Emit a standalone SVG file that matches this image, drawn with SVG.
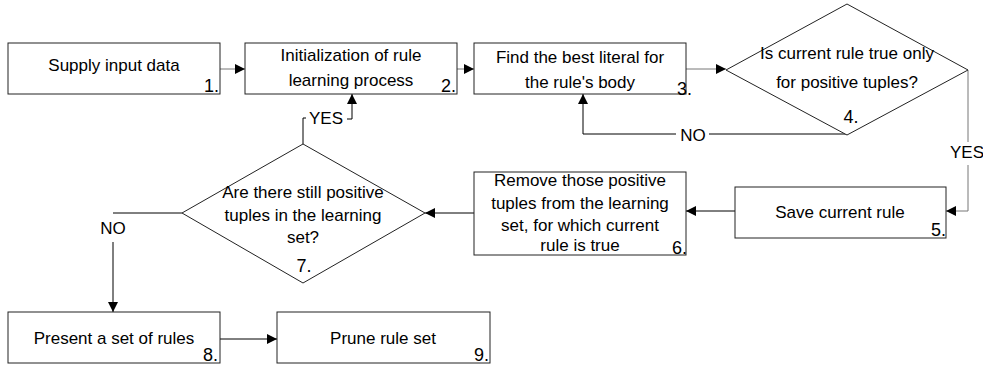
<svg xmlns="http://www.w3.org/2000/svg" width="983" height="367" viewBox="0 0 983 367">
<style>
.box{fill:#fff;stroke:#222;stroke-width:1}
.t{font-family:"Liberation Sans",Arial,sans-serif;font-size:17px;fill:#000;text-anchor:middle}
.n{font-family:"Liberation Sans",Arial,sans-serif;font-size:18px;fill:#000;text-anchor:end}
.c{fill:none;stroke:#000;stroke-width:1}
.g{stroke:#777}
.lbl{font-family:"Liberation Sans",Arial,sans-serif;font-size:17px;fill:#000;text-anchor:middle}
</style>
<defs>
<marker id="ah" viewBox="0 0 10 10" refX="10" refY="5" markerWidth="10" markerHeight="10" markerUnits="userSpaceOnUse" orient="auto">
<path d="M0,0 L10,5 L0,10 z" fill="#000"/>
</marker>
</defs>
<rect width="983" height="367" fill="#fff"/>
<g id="connectors">
<path class="c g" d="M220,69 H245" marker-end="url(#ah)"/>
<path class="c g" d="M457,69 H474" marker-end="url(#ah)"/>
<path class="c g" d="M686,69 H726" marker-end="url(#ah)"/>
<path class="c" d="M847,134 H709 M676,134 H583 V94" marker-end="url(#ah)"/>
<path class="c g" d="M968,70 V142 M968,165 V211 H946" marker-end="url(#ah)"/>
<path class="c" d="M735,211 H686" marker-end="url(#ah)"/>
<path class="c" d="M474,213 H425" marker-end="url(#ah)"/>
<path class="c" d="M303,144 V118 H306 M347,119 H352 V94" marker-end="url(#ah)"/>
<path class="c" d="M182,213 H113 M113,242 V312" marker-end="url(#ah)"/>
<path class="c" d="M220,339 H277" marker-end="url(#ah)"/>
<text class="lbl" x="693" y="141">NO</text>
<text class="lbl" x="967" y="158">YES</text>
<text class="lbl" x="326" y="124">YES</text>
<text class="lbl" x="113" y="234">NO</text>
</g>
<g id="n1">
<rect class="box" x="8" y="43" width="212" height="51"/>
<text class="t" x="114" y="71">Supply input data</text>
<text class="n" x="219" y="92">1.</text>
</g>
<g id="n2">
<rect class="box" x="245" y="43" width="212" height="51"/>
<text class="t" x="351" y="61">Initialization of rule</text>
<text class="t" x="351" y="86">learning process</text>
<text class="n" x="456" y="92">2.</text>
</g>
<g id="n3">
<rect class="box" x="474" y="43" width="212" height="51"/>
<text class="t" x="580" y="63">Find the best literal for</text>
<text class="t" x="580" y="88">the rule's body</text>
<text class="n" x="692" y="95">3.</text>
</g>
<g id="n4">
<polygon class="box" points="726,70 847,4 968,70 847,135"/>
<text class="t" x="847" y="59">Is current rule true only</text>
<text class="t" x="847" y="88">for positive tuples?</text>
<text class="t" x="851" y="123" style="font-size:18px">4.</text>
</g>
<g id="n5">
<rect class="box" x="735" y="187" width="211" height="51"/>
<text class="t" x="840" y="218">Save current rule</text>
<text class="n" x="946" y="236">5.</text>
</g>
<g id="n6">
<rect class="box" x="474" y="172" width="212" height="83"/>
<text class="t" x="580" y="186">Remove those positive</text>
<text class="t" x="580" y="209">tuples from the learning</text>
<text class="t" x="580" y="231">set, for which current</text>
<text class="t" x="580" y="251">rule is true</text>
<text class="n" x="687" y="254">6.</text>
</g>
<g id="n7">
<polygon class="box" points="182,213 303,144 425,213 303,283"/>
<text class="t" x="303" y="198">Are there still positive</text>
<text class="t" x="303" y="221">tuples in the learning</text>
<text class="t" x="303" y="243">set?</text>
<text class="t" x="304" y="272" style="font-size:18px">7.</text>
</g>
<g id="n8">
<rect class="box" x="8" y="312" width="212" height="51"/>
<text class="t" x="114" y="344">Present a set of rules</text>
<text class="n" x="218" y="361">8.</text>
</g>
<g id="n9">
<rect class="box" x="277" y="312" width="213" height="51"/>
<text class="t" x="383" y="344">Prune rule set</text>
<text class="n" x="489" y="361">9.</text>
</g>
</svg>
